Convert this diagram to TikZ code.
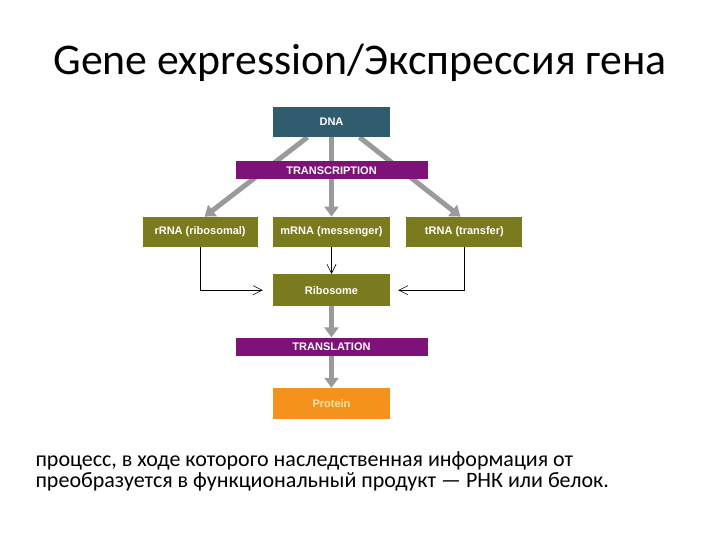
\documentclass[tikz,border=0pt]{standalone}
\usepackage{fontspec}
\setmainfont{Carlito}
\newfontfamily\boxfont{Liberation Sans}
\usetikzlibrary{arrows.meta, positioning, backgrounds}
\definecolor{dnateal}{HTML}{2F5D6E}
\definecolor{plum}{HTML}{7E1279}
\definecolor{olive2}{HTML}{7A7A1F}
\definecolor{orange2}{HTML}{F5921E}
\definecolor{arrowgrey}{HTML}{9A9A9A}
\definecolor{cream}{HTML}{FBE6A8}
\tikzset{
  box/.style={rectangle, fill=dnateal, minimum width=117pt, minimum height=30pt,
    inner sep=0pt, align=center, text=white, font=\boxfont\bfseries\fontsize{11}{13}\selectfont},
  boxOlive/.style={box, fill=olive2},
  boxOrange/.style={box, fill=orange2, text=cream},
  bar/.style={box, fill=plum, minimum width=192pt, minimum height=18pt},
  greyarrow/.style={-{Triangle[length=10pt, width=14pt]}, line width=5pt, arrowgrey},
  linearrow/.style={-{Straight Barb[length=9pt, width=9pt]}, semithick, black},
}

\begin{document}
\begin{tikzpicture}[x=1pt, y=-1pt, node distance=24pt]
\useasboundingbox (0,0) rectangle (720,540);
\node[font=\fontsize{43.8}{50}\selectfont, anchor=base] (title) at (360,75) {Gene expression/Экспрессия гена};
\node[box] (dna) at (331.5,122) {DNA};
\node[bar, below=of dna] (transcr) {TRANSCRIPTION};
\node[boxOlive, below=37pt of transcr] (mrna) {mRNA (messenger)};
\node[boxOlive, left=15pt of mrna, minimum width=115pt] (rrna) {rRNA (ribosomal)};
\node[boxOlive, right=16pt of mrna, minimum width=116pt] (trna) {tRNA (transfer)};
\node[boxOlive, below=27pt of mrna, minimum height=32pt] (ribo) {Ribosome};
\node[bar, below=31pt of ribo] (transl) {TRANSLATION};
\node[boxOrange, below=32pt of transl, minimum height=31pt] (prot) {Protein};
\begin{scope}[on background layer]
\draw[greyarrow] ([xshift=-24pt]dna.south) -- ([xshift=4.5pt]rrna.north);
\draw[greyarrow] (dna.south) -- (mrna.north);
\draw[greyarrow] ([xshift=28pt]dna.south) -- ([xshift=-4pt]trna.north);
\end{scope}
\draw[linearrow] (mrna.south) -- (ribo.north);
\draw[linearrow, shorten >=10pt] (rrna.south) |- (ribo.west);
\draw[linearrow, shorten >=8pt] (trna.south) |- (ribo.east);
\draw[greyarrow] (ribo.south) -- (transl.north);
\draw[greyarrow] (transl.south) -- (prot.north);
\node[anchor=base west, align=left, font=\fontsize{22}{21}\selectfont] (desc) at (32,487)
  {процесс, в ходе которого наследственная информация от\\
   преобразуется в функциональный продукт — РНК или белок.};
\end{tikzpicture}
\end{document}
